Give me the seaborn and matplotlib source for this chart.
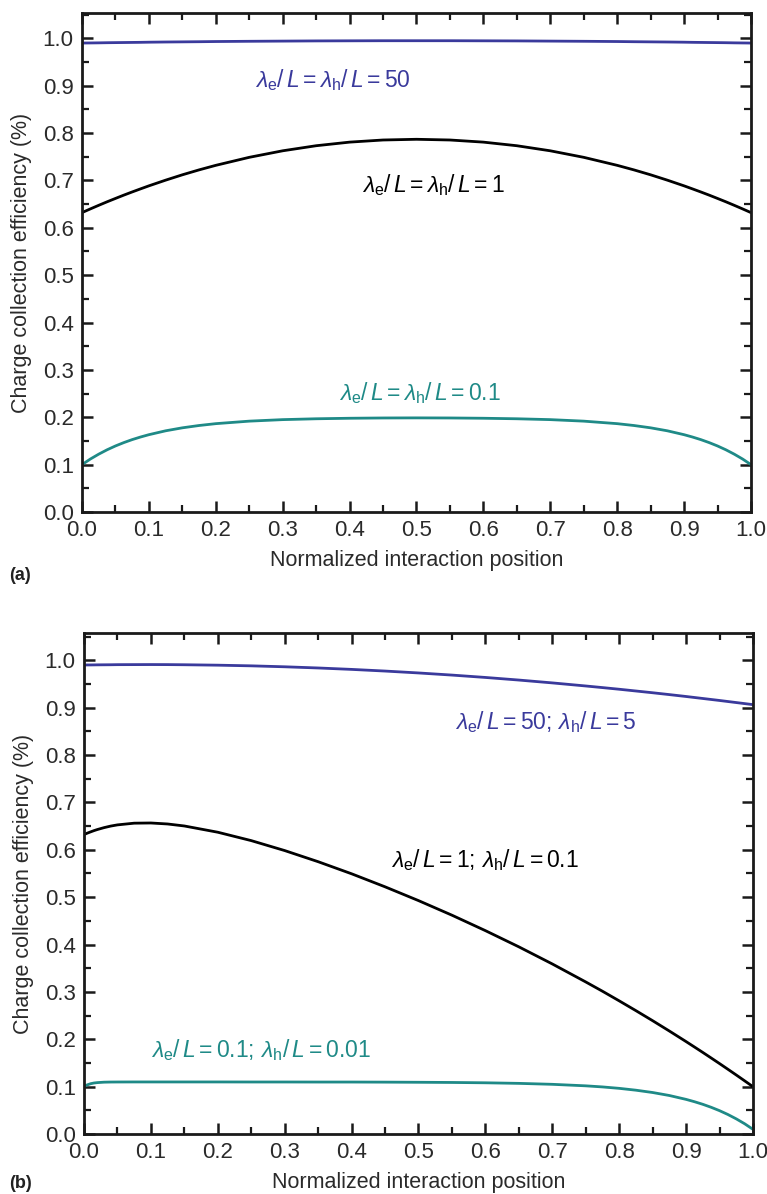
import numpy as np
import pandas as pd
import matplotlib
matplotlib.use("Agg")
import matplotlib.pyplot as plt
from matplotlib.ticker import MultipleLocator
import seaborn as sns

# ---------------- data ----------------
# Panel (a)
xa = [0.0, 0.0125, 0.025, 0.0375, 0.05, 0.0625, 0.075, 0.0875, 0.1, 0.125, 0.15, 0.175, 0.2, 0.25, 0.3,
      0.35, 0.4, 0.45, 0.5, 0.55, 0.6, 0.65, 0.7, 0.75, 0.8, 0.825, 0.85, 0.875, 0.9, 0.9125, 0.925,
      0.9375, 0.95, 0.9625, 0.975, 0.9875, 1.0]
a_blue = [0.9901, 0.9903, 0.9905, 0.9908, 0.9910, 0.9912, 0.9914, 0.9916, 0.9919, 0.9923, 0.9926, 0.9929,
          0.9933, 0.9938, 0.9942, 0.9946, 0.9948, 0.9950, 0.9950, 0.9950, 0.9948, 0.9946, 0.9942, 0.9938,
          0.9933, 0.9929, 0.9926, 0.9923, 0.9919, 0.9916, 0.9914, 0.9912, 0.9910, 0.9908, 0.9905, 0.9903, 0.9901]
a_black = [0.6321, 0.6399, 0.6475, 0.6549, 0.6620, 0.6690, 0.6757, 0.6822, 0.6886, 0.7006, 0.7119, 0.7223,
           0.7319, 0.7488, 0.7626, 0.7733, 0.7809, 0.7854, 0.7869, 0.7854, 0.7809, 0.7733, 0.7626, 0.7488,
           0.7319, 0.7223, 0.7119, 0.7006, 0.6886, 0.6822, 0.6757, 0.6690, 0.6620, 0.6549, 0.6475, 0.6399, 0.6321]
a_teal = [0.1000, 0.1118, 0.1221, 0.1313, 0.1394, 0.1465, 0.1528, 0.1583, 0.1632, 0.1714, 0.1777, 0.1826,
          0.1865, 0.1918, 0.1950, 0.1968, 0.1979, 0.1985, 0.1987, 0.1985, 0.1979, 0.1968, 0.1950, 0.1918,
          0.1865, 0.1826, 0.1777, 0.1714, 0.1632, 0.1583, 0.1528, 0.1465, 0.1394, 0.1313, 0.1221, 0.1118, 0.1000]

# Panel (b)
xb = [0.0, 0.0025, 0.005, 0.01, 0.015, 0.02, 0.03, 0.04, 0.05, 0.075, 0.1, 0.125, 0.15, 0.2, 0.25, 0.3,
      0.35, 0.4, 0.45, 0.5, 0.55, 0.6, 0.65, 0.7, 0.75, 0.775, 0.8, 0.825, 0.85, 0.875, 0.9, 0.9125,
      0.925, 0.9375, 0.95, 0.9625, 0.975, 0.9875, 1.0]
b_blue = [0.9901, 0.9901, 0.9902, 0.9902, 0.9903, 0.9904, 0.9905, 0.9906, 0.9908, 0.9909, 0.9910, 0.9909,
          0.9906, 0.9897, 0.9883, 0.9863, 0.9838, 0.9808, 0.9773, 0.9733, 0.9688, 0.9638, 0.9583, 0.9523,
          0.9458, 0.9424, 0.9389, 0.9352, 0.9315, 0.9276, 0.9236, 0.9215, 0.9194, 0.9173, 0.9152, 0.9130,
          0.9108, 0.9086, 0.9064]
b_black = [0.6321, 0.6337, 0.6352, 0.6379, 0.6405, 0.6428, 0.6468, 0.6501, 0.6526, 0.6562, 0.6566, 0.6545,
           0.6503, 0.6371, 0.6194, 0.5984, 0.5749, 0.5494, 0.5219, 0.4928, 0.4620, 0.4294, 0.3952, 0.3591,
           0.3211, 0.3015, 0.2812, 0.2605, 0.2393, 0.2175, 0.1952, 0.1838, 0.1723, 0.1606, 0.1488, 0.1368,
           0.1247, 0.1124, 0.1000]
b_teal = [0.1000, 0.1022, 0.1039, 0.1063, 0.1078, 0.1086, 0.1095, 0.1098, 0.1099, 0.1100, 0.1100, 0.1100,
          0.1100, 0.1100, 0.1099, 0.1099, 0.1098, 0.1098, 0.1096, 0.1093, 0.1089, 0.1082, 0.1070, 0.1050,
          0.1018, 0.0995, 0.0965, 0.0926, 0.0877, 0.0814, 0.0732, 0.0683, 0.0628, 0.0565, 0.0494, 0.0413,
          0.0321, 0.0218, 0.0100]

labels_a = [r"$\lambda_{\mathrm{e}}/\,L=\lambda_{\mathrm{h}}/\,L=50$",
            r"$\lambda_{\mathrm{e}}/\,L=\lambda_{\mathrm{h}}/\,L=1$",
            r"$\lambda_{\mathrm{e}}/\,L=\lambda_{\mathrm{h}}/\,L=0.1$"]
labels_b = [r"$\lambda_{\mathrm{e}}/\,L=50;\,\lambda_{\mathrm{h}}/\,L=5$",
            r"$\lambda_{\mathrm{e}}/\,L=1;\,\lambda_{\mathrm{h}}/\,L=0.1$",
            r"$\lambda_{\mathrm{e}}/\,L=0.1;\,\lambda_{\mathrm{h}}/\,L=0.01$"]

xticks = [0.0, 0.1, 0.2, 0.3, 0.4, 0.5, 0.6, 0.7, 0.8, 0.9, 1.0]
yticks = [0.0, 0.1, 0.2, 0.3, 0.4, 0.5, 0.6, 0.7, 0.8, 0.9, 1.0]

colors = ["#3a3a9c", "#000000", "#1f8a87"]

# ---------------- style ----------------
sns.set_theme(style="ticks")
plt.rcParams["font.family"] = ["Liberation Sans", "DejaVu Sans"]
plt.rcParams["mathtext.fontset"] = "custom"
plt.rcParams["mathtext.rm"] = "Liberation Sans"
plt.rcParams["mathtext.it"] = "Liberation Sans:italic"
plt.rcParams["mathtext.bf"] = "Liberation Sans:bold"

fig = plt.figure(figsize=(7.67, 11.94), dpi=100)
ax_a = fig.add_axes([0.1069, 0.5712, 0.8722, 0.4177])
ax_b = fig.add_axes([0.1095, 0.0502, 0.8722, 0.4198])

tick_fs = 16
lab_fs = 15.5
ann_fs = 16.5


def draw(ax, x, curves, labels, label_pos, ylim_top):
    for y, c in zip(curves, colors):
        df = pd.DataFrame({"x": x, "y": y})
        sns.lineplot(data=df, x="x", y="y", ax=ax, color=c, linewidth=2.0, sort=False)
    for (tx, ty), lab, c in zip(label_pos, labels, colors):
        ax.text(tx, ty, lab, color=c, fontsize=ann_fs, ha="center", va="center")
    ax.set_xlim(0, 1.0)
    ax.set_ylim(0, ylim_top)
    ax.set_xticks(xticks)
    ax.set_xticklabels([f"{v:.1f}" for v in xticks], fontsize=tick_fs)
    ax.set_yticks(yticks)
    ax.set_yticklabels([f"{v:.1f}" for v in yticks], fontsize=tick_fs)
    ax.xaxis.set_minor_locator(MultipleLocator(0.05))
    ax.yaxis.set_minor_locator(MultipleLocator(0.05))
    ax.tick_params(which="both", direction="in", top=True, right=True, color="#1a1a1a")
    ax.tick_params(which="major", length=8, width=1.8, pad=6, labelcolor="#2a2a2a")
    ax.tick_params(which="minor", length=5, width=1.6)
    for s in ax.spines.values():
        s.set_linewidth(2.0)
        s.set_color("#1a1a1a")
        s.set_visible(True)
    ax.set_xlabel("Normalized interaction position", fontsize=lab_fs, color="#2a2a2a", labelpad=6)
    ax.set_ylabel("Charge collection efficiency (%)", fontsize=lab_fs, color="#2a2a2a", labelpad=8)


draw(ax_a, xa, [a_blue, a_black, a_teal], labels_a,
     [(0.375, 0.912), (0.525, 0.69), (0.505, 0.251)], 1.053)
draw(ax_b, xb, [b_blue, b_black, b_teal], labels_b,
     [(0.69, 0.869), (0.60, 0.578), (0.265, 0.177)], 1.058)

fig.text(0.012, 1 - 575 / 1194, "(a)", fontsize=13, fontweight="bold", va="center", ha="left", color="#222222")
fig.text(0.012, 1 - 1183 / 1194, "(b)", fontsize=13, fontweight="bold", va="center", ha="left", color="#222222")

fig.savefig("out.png", dpi=100)
